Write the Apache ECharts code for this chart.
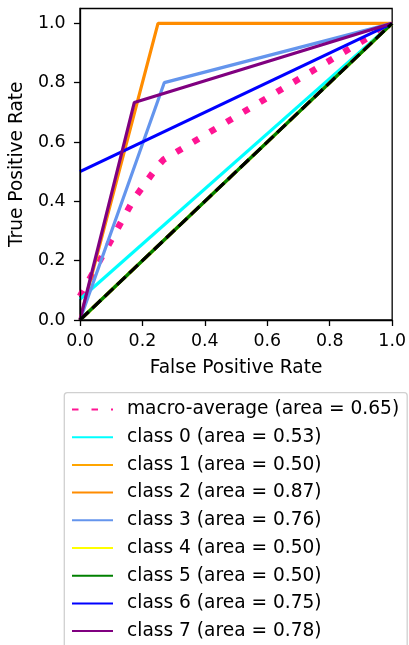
<!DOCTYPE html>
<html>
<head>
<meta charset="utf-8">
<script src="https://cdn.jsdelivr.net/npm/echarts@6/dist/echarts.min.js"></script>
<style>
html,body{margin:0;padding:0;background:#fff;}
#chart{width:409px;height:645px;}
</style>
</head>
<body>
<div id="chart"></div>
<script>
// ---- data ----
const macroFpr = [0, 0.174, 0.25, 0.267, 1];
const macroTpr = [0.08, 0.41, 0.52, 0.54, 1];
const macroArea = 0.65;

const classNames = ['class 0', 'class 1', 'class 2', 'class 3', 'class 4', 'class 5', 'class 6', 'class 7'];
const classAreas = [0.53, 0.50, 0.87, 0.76, 0.50, 0.50, 0.75, 0.78];
const classFpr = [
  [0, 1],
  [0, 1],
  [0, 0.25, 1],
  [0, 0.27, 1],
  [0, 1],
  [0, 1],
  [0, 1],
  [0, 0.174, 1]
];
const classTpr = [
  [0.07, 1],
  [0, 1],
  [0, 1, 1],
  [0, 0.8, 1],
  [0, 1],
  [0, 1],
  [0.5, 1],
  [0, 0.733, 1]
];
const classColors = ['#00ffff', '#ffa500', '#ff8c00', '#6495ed', '#ffff00', '#008000', '#0000ff', '#800080'];
const macroColor = '#ff1493';
const chanceFpr = [0, 1];
const chanceTpr = [0, 1];

const xTicks = [0, 0.2, 0.4, 0.6, 0.8, 1.0];
const yTicks = [0, 0.2, 0.4, 0.6, 0.8, 1.0];

// ---- build ----
const FONT = 'DejaVu Sans';
const pairs = (xs, ys) => xs.map((x, i) => [x, ys[i]]);

const series = [];
const macroName = 'macro-average (area = ' + macroArea.toFixed(2) + ')';
series.push({
  name: macroName, type: 'line', data: pairs(macroFpr, macroTpr),
  symbol: 'none', color: macroColor, clip: true,
  lineStyle: { color: macroColor, width: 6.5, type: [6.5, 13], cap: 'butt' },
  animation: false
});
classNames.forEach((n, i) => {
  series.push({
    name: n + ' (area = ' + classAreas[i].toFixed(2) + ')', type: 'line',
    data: pairs(classFpr[i], classTpr[i]), symbol: 'none', color: classColors[i], clip: true,
    lineStyle: { color: classColors[i], width: 3.2 }, animation: false
  });
});
series.push({
  name: 'chance', type: 'line', data: pairs(chanceFpr, chanceTpr), symbol: 'none', clip: true,
  color: '#000', lineStyle: { color: '#000', width: 3.2, type: [12, 5] }, animation: false
});

const fmt = v => v.toFixed(1);
const option = {
  backgroundColor: '#fff',
  animation: false,
  textStyle: { fontFamily: FONT },
  grid: { left: 79.7, right: 15.3, top: 8.5, height: 311.5, show: true, borderColor: '#000', borderWidth: 1.3, backgroundColor: 'transparent' },
  xAxis: {
    type: 'value', min: 0, max: 1, interval: 0.2, z: 20,
    name: 'False Positive Rate', nameLocation: 'middle', nameGap: 39,
    nameTextStyle: { fontFamily: FONT, fontSize: 18.6, color: '#000' },
    axisLine: { show: true, lineStyle: { color: '#000', width: 1.3 } },
    axisTick: { show: true, inside: false, length: 6, lineStyle: { color: '#000', width: 1.3 }, customValues: xTicks },
    axisLabel: { fontFamily: FONT, fontSize: 17.4, color: '#000', margin: 13, formatter: fmt, customValues: xTicks },
    splitLine: { show: false }
  },
  yAxis: {
    type: 'value', min: 0, max: 1.05, z: 20,
    name: 'True Positive Rate', nameLocation: 'middle', nameGap: 51, nameRotate: 90,
    nameTextStyle: { fontFamily: FONT, fontSize: 18.6, color: '#000' },
    axisLine: { show: true, lineStyle: { color: '#000', width: 1.3 } },
    axisTick: { show: true, inside: false, length: 6, lineStyle: { color: '#000', width: 1.3 }, customValues: yTicks },
    axisLabel: { fontFamily: FONT, fontSize: 17.4, color: '#000', margin: 14.4, formatter: fmt, customValues: yTicks },
    splitLine: { show: false }
  },
  legend: {
    orient: 'vertical', left: 64.3, top: 392.7, height: 300,
    data: series.filter(s => s.name !== 'chance').map(s => s.name),
    itemWidth: 41, itemHeight: 14, itemGap: 8.7,
    padding: [7.3, 8, 20, 6.7],
    borderColor: '#d0d0d0', borderWidth: 1.3, borderRadius: 3,
    backgroundColor: '#fff',
    itemStyle: { opacity: 0 },
    textStyle: { fontFamily: FONT, fontSize: 18.6, color: '#000', lineHeight: 18.6, padding: [0, 0, 0, 9] },
    selectedMode: false
  },
  series: series
};

const chart = echarts.init(document.getElementById('chart'), null, { renderer: 'canvas' });
chart.setOption(option);
</script>
</body>
</html>
